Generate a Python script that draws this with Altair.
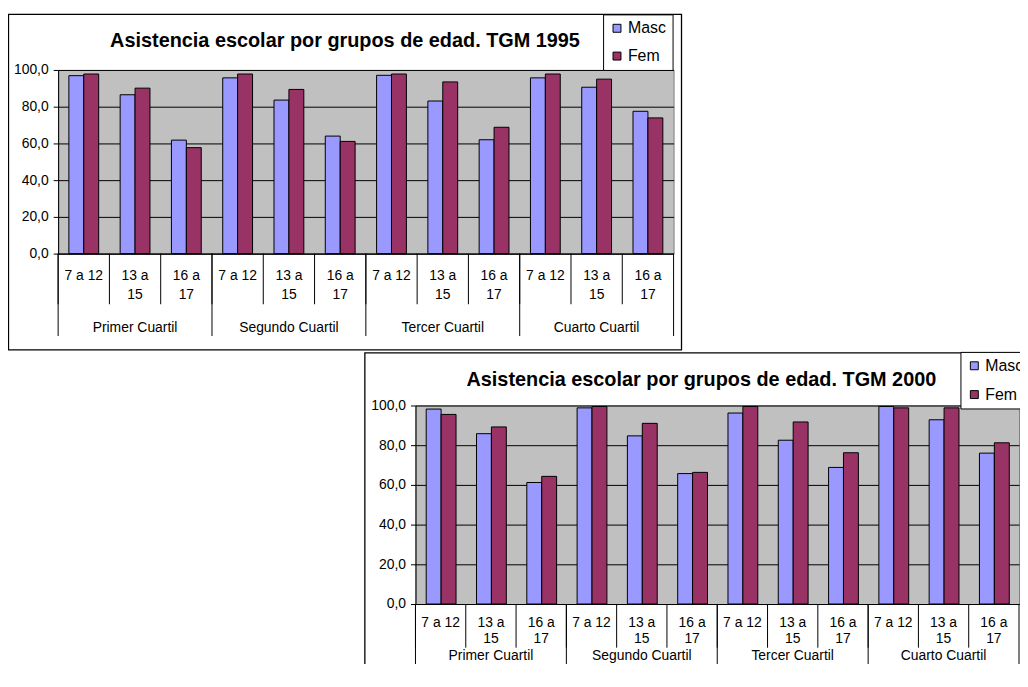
import altair as alt
import pandas as pd

quartiles = ["Primer Cuartil", "Segundo Cuartil", "Tercer Cuartil", "Cuarto Cuartil"]
ages = ["7 a 12", "13 a 15", "16 a 17"]
series = ["Masc", "Fem"]
colors = ["#9999FF", "#993366"]

masc_1995 = [96.9, 86.5, 61.8, 95.7, 83.6, 64.0, 97.1, 83.1, 62.0, 95.7, 90.6, 77.5]
fem_1995 = [97.8, 90.1, 57.7, 97.8, 89.4, 61.1, 97.8, 93.5, 68.8, 97.8, 95.0, 73.9]
masc_2000 = [98.2, 85.8, 61.2, 98.8, 84.7, 65.7, 96.2, 82.5, 68.8, 99.5, 92.8, 76.0]
fem_2000 = [95.5, 89.2, 64.3, 99.5, 91.0, 66.3, 99.5, 91.7, 76.2, 98.8, 98.8, 81.2]

title_1995 = "Asistencia escolar por grupos de edad. TGM 1995"
title_2000 = "Asistencia escolar por grupos de edad. TGM 2000"

FONT = "Liberation Sans"
cats = [q + "|" + a for q in quartiles for a in ages]


def wrap(a):
    # Excel wraps the longer labels onto two lines
    if len(a) > 6:
        i = a.rfind(" ")
        return a[:i], a[i + 1:]
    return a, ""


def build_df(masc, fem):
    rows = []
    for i, c in enumerate(cats):
        rows.append({"cat": c, "sexo": series[0], "valor": masc[i]})
        rows.append({"cat": c, "sexo": series[1], "valor": fem[i]})
    return pd.DataFrame(rows)


age_df = pd.DataFrame({
    "cat": cats,
    "l1": [wrap(c.split("|")[1])[0] for c in cats],
    "l2": [wrap(c.split("|")[1])[1] for c in cats],
})

XSCALE = alt.Scale(type="band", domain=cats, paddingInner=0, paddingOuter=0)


def excel_chart(title, masc, fem, w, h, g):
    df = build_df(masc, fem)
    qdf = pd.DataFrame({
        "cuartil": quartiles,
        "mid": [q + "|" + ages[1] for q in quartiles],
        "first": [q + "|" + ages[0] for q in quartiles],
    })
    edge_df = pd.DataFrame({"last": [quartiles[-1] + "|" + ages[-1]]})
    one = pd.DataFrame({"f": [0]})

    layers = [alt.Chart(one).mark_rect(
        fill="white", fillOpacity=0, stroke="black", strokeWidth=1.3
    ).encode(
        x=alt.value(g["fx1"]), x2=alt.value(g["fx2"]),
        y=alt.value(g["fy1"]), y2=alt.value(g["fy2"]),
    )]

    bars = alt.Chart(df).mark_bar(stroke="black", strokeWidth=1).encode(
        x=alt.X("cat:N", scale=XSCALE,
                axis=alt.Axis(title=None, orient="bottom", domainColor="black",
                              labels=False, ticks=False)),
        xOffset=alt.XOffset("sexo:N", sort=series,
                            scale=alt.Scale(paddingOuter=0.72, paddingInner=0)),
        y=alt.Y("valor:Q", scale=alt.Scale(domain=[0, 100], nice=False),
                axis=alt.Axis(title=None, values=[0, 20, 40, 60, 80, 100],
                              labelExpr="replace(format(datum.value, '.1f'), '.', ',')",
                              grid=True, gridColor="black", gridOpacity=1,
                              domainColor="black", tickColor="black", tickSize=5,
                              labelPadding=5, labelFont=FONT, labelFontSize=14,
                              labelColor="black")),
        color=alt.Color("sexo:N", sort=series,
                        scale=alt.Scale(domain=series, range=colors),
                        legend=alt.Legend(title=None, orient="none",
                                          legendX=g["lx"], legendY=g["ly"],
                                          direction="vertical", strokeColor="black",
                                          fillColor="white", padding=6,
                                          symbolType="square", symbolSize=64,
                                          symbolStrokeColor="black",
                                          symbolStrokeWidth=1, labelFont=FONT,
                                          labelFontSize=16, labelColor="black",
                                          rowPadding=g["lrow"], labelOffset=3)),
    )
    layers.append(bars)
    # category separators (age groups)
    layers.append(alt.Chart(age_df).mark_rule(color="black", strokeWidth=1).encode(
        x=alt.X("cat:N", scale=XSCALE, bandPosition=0),
        y=alt.value(h), y2=alt.value(g["aend"]),
    ))
    # quartile separators
    layers.append(alt.Chart(qdf).mark_rule(color="black", strokeWidth=1).encode(
        x=alt.X("first:N", scale=XSCALE, bandPosition=0),
        y=alt.value(h), y2=alt.value(g["qend"]),
    ))
    layers.append(alt.Chart(edge_df).mark_rule(color="black", strokeWidth=1).encode(
        x=alt.X("last:N", scale=XSCALE, bandPosition=1),
        y=alt.value(h), y2=alt.value(g["qend"]),
    ))
    # age labels (two lines)
    for field, yy in (("l1", g["a1"]), ("l2", g["a2"])):
        layers.append(alt.Chart(age_df).mark_text(
            font=FONT, fontSize=14, color="black", baseline="alphabetic", align="center"
        ).encode(
            x=alt.X("cat:N", scale=XSCALE),
            y=alt.value(yy),
            text=alt.Text(f"{field}:N"),
        ))
    layers.append(alt.Chart(qdf).mark_text(font=FONT, fontSize=14, color="black",
                                           baseline="alphabetic", align="center").encode(
        x=alt.X("mid:N", scale=XSCALE),
        y=alt.value(g["qy"]),
        text="cuartil:N",
    ))
    return alt.layer(*layers).properties(
        width=w, height=h,
        title=alt.TitleParams(text=title, font=FONT, fontSize=20, fontWeight="bold",
                              color="black", anchor="middle", baseline="alphabetic",
                              offset=g["toff"], dx=g["tdx"]),
        view=alt.ViewBackground(fill="#C0C0C0", stroke="#808080"),
    )


chart1 = excel_chart(title_1995, masc_1995, fem_1995, 620, 185,
                     dict(fx1=-50, fx2=628, fy1=-56, fy2=282,
                          a1=212, a2=231, aend=236, qend=268, qy=264,
                          lx=549, ly=-56, lrow=12, toff=-53.6, tdx=-21))
chart2 = excel_chart(title_2000, masc_2000, fem_2000, 608, 200,
                     dict(fx1=-51, fx2=640, fy1=-53, fy2=300,
                          a1=223, a2=239, aend=244, qend=300, qy=256,
                          lx=549, ly=-54, lrow=13, toff=-55, tdx=-16))

spacer = alt.Chart(pd.DataFrame({"s": [0]})).mark_text(text="", opacity=0).encode(
    x=alt.value(0), y=alt.value(0)
).properties(width=360, height=200,
             view=alt.ViewBackground(fillOpacity=0, strokeOpacity=0))

row2 = alt.hconcat(spacer, chart2, spacing=0, bounds="flush").resolve_scale(
    x="independent", y="independent", color="independent"
).resolve_legend(color="independent")

chart = alt.vconcat(
    chart1, row2, spacing=153, bounds="flush",
).resolve_scale(
    x="independent", y="independent", color="independent"
).resolve_legend(color="independent").properties(
    padding={"left": -1.5, "top": 2, "right": -33, "bottom": -44}
).configure(background="white", font=FONT)

chart.save("out.html", embed_options={"renderer": "svg", "actions": False})
